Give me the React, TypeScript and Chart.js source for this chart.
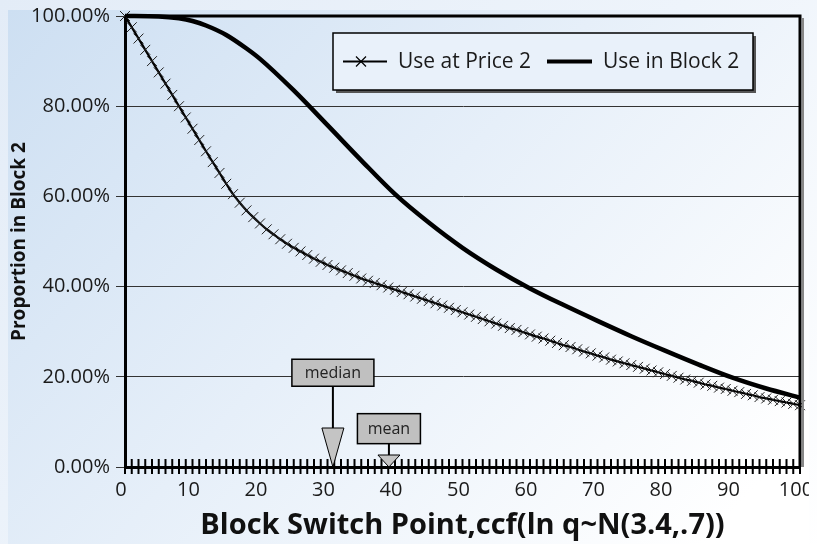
import React, { useEffect, useRef } from 'react';
import { Chart, registerables } from 'chart.js';

Chart.register(...registerables);

// ---- data ----
const priceX: number[] = Array.from({ length: 101 }, (_, i) => i);
const priceUse: number[] = [
  100, 97.5, 95.0, 92.5, 90.0, 87.5, 85.0, 82.5, 80.0, 77.5,
  75.0, 72.5, 70.0, 67.6, 65.2, 62.8, 60.5, 58.6, 56.9, 55.4,
  54.0, 52.7, 51.6, 50.5, 49.5, 48.6, 47.8, 47.0, 46.2, 45.5,
  44.8, 44.2, 43.6, 43.0, 42.4, 41.8, 41.3, 40.8, 40.3, 39.8,
  39.3, 38.8, 38.3, 37.8, 37.3, 36.8, 36.3, 35.8, 35.3, 34.8,
  34.3, 33.8, 33.3, 32.8, 32.3, 31.8, 31.3, 30.8, 30.4, 29.9,
  29.4, 28.9, 28.5, 28.0, 27.5, 27.0, 26.6, 26.1, 25.6, 25.2,
  24.7, 24.3, 23.8, 23.4, 23.0, 22.6, 22.2, 21.8, 21.4, 21.0,
  20.6, 20.2, 19.8, 19.4, 19.1, 18.7, 18.3, 18.0, 17.6, 17.3,
  16.9, 16.6, 16.2, 15.9, 15.5, 15.2, 14.9, 14.6, 14.3, 14.0,
  13.7,
];
const blockX: number[] = [0, 5, 8, 10, 12, 15, 18, 20, 25, 30, 35, 40, 45, 50, 55, 60, 65, 70, 75, 80, 85, 90, 95, 100];
const blockUse: number[] = [100, 99.9, 99.5, 98.9, 97.9, 95.8, 92.8, 90.5, 83.5, 75.8, 68.0, 60.5, 54.2, 48.6, 43.8, 39.6, 35.9, 32.4, 29.0, 25.8, 22.7, 19.8, 17.4, 15.4];
const xTickValues: number[] = [0, 10, 20, 30, 40, 50, 60, 70, 80, 90, 100];
const yTickValues: number[] = [0, 20, 40, 60, 80, 100];
const minorTickValues: number[] = Array.from({ length: 101 }, (_, i) => i);
const seriesNames: string[] = ['Use at Price 2', 'Use in Block 2'];
const medianX = 30.8;
const meanX = 39.1;
const medianBoxY = 20.9;
const meanBoxY = 8.5;

const FONT = "'Open Sans', 'Noto Sans', sans-serif";

const bgPlugin = {
  id: 'bg',
  beforeDraw(chart: any) {
    const { ctx, width, height } = chart;
    ctx.save();
    const g = ctx.createLinearGradient(0, 2, width * 0.8, height * 1.1);
    g.addColorStop(0, '#cddff2');
    g.addColorStop(0.5, '#e6eff9');
    g.addColorStop(1, '#ffffff');
    ctx.fillStyle = g;
    ctx.fillRect(0, 2, width, height - 2);
    ctx.restore();
  },
};

function drawMarker(ctx: any, cx: number, base: number, boxCy: number, label: string, boxW: number, boxH: number, triH: number, triW: number) {
  const boxTop = boxCy - boxH / 2;
  const boxBottom = boxCy + boxH / 2;
  ctx.save();
  ctx.strokeStyle = '#000';
  ctx.lineWidth = 2;
  ctx.beginPath();
  ctx.moveTo(cx, boxBottom);
  ctx.lineTo(cx, base - triH);
  ctx.stroke();
  ctx.fillStyle = '#c4c4c4';
  ctx.lineWidth = 1;
  ctx.beginPath();
  ctx.moveTo(cx - triW / 2, base - triH);
  ctx.lineTo(cx + triW / 2, base - triH);
  ctx.lineTo(cx, base);
  ctx.closePath();
  ctx.fill();
  ctx.stroke();
  ctx.fillStyle = '#c0c0c0';
  ctx.lineWidth = 1.5;
  ctx.fillRect(cx - boxW / 2, boxTop, boxW, boxH);
  ctx.strokeRect(cx - boxW / 2, boxTop, boxW, boxH);
  ctx.fillStyle = '#222';
  ctx.font = `16px ${FONT}`;
  ctx.textAlign = 'center';
  ctx.textBaseline = 'middle';
  ctx.fillText(label, cx, boxCy + 1);
  ctx.restore();
}

const overlayPlugin = {
  id: 'overlay',
  afterDraw(chart: any) {
    const { ctx, chartArea, scales } = chart;
    const xs = scales.x;
    const ys = scales.y;
    const base = ys.getPixelForValue(0);
    ctx.save();
    ctx.strokeStyle = '#888';
    ctx.lineWidth = 2;
    ctx.beginPath();
    ctx.moveTo(chartArea.right + 3, chartArea.top + 2);
    ctx.lineTo(chartArea.right + 3, chartArea.bottom);
    ctx.stroke();
    ctx.strokeStyle = '#000';
    ctx.lineWidth = 3;
    ctx.beginPath();
    ctx.moveTo(chartArea.left, chartArea.top);
    ctx.lineTo(chartArea.right, chartArea.top);
    ctx.lineTo(chartArea.right, chartArea.bottom);
    ctx.stroke();
    ctx.lineWidth = 2;
    ctx.beginPath();
    for (const v of minorTickValues) {
      const px = xs.getPixelForValue(v);
      ctx.moveTo(px, base - 8);
      ctx.lineTo(px, base + 7);
    }
    ctx.stroke();
    ctx.restore();

    drawMarker(ctx, xs.getPixelForValue(medianX), base, ys.getPixelForValue(medianBoxY), 'median', 82, 27, 39, 22);
    drawMarker(ctx, xs.getPixelForValue(meanX), base, ys.getPixelForValue(meanBoxY), 'mean', 63, 30, 12, 22);

    const lx = chartArea.left + 208;
    const ly = chartArea.top + 17;
    const lw = 420;
    const lh = 57;
    ctx.save();
    ctx.fillStyle = '#555';
    ctx.fillRect(lx + 3, ly + 3, lw, lh);
    ctx.fillStyle = '#e9f1fa';
    ctx.fillRect(lx, ly, lw, lh);
    ctx.strokeStyle = '#000';
    ctx.lineWidth = 1.5;
    ctx.strokeRect(lx, ly, lw, lh);
    const cy = ly + lh / 2;
    ctx.lineWidth = 2;
    ctx.beginPath();
    ctx.moveTo(lx + 10, cy);
    ctx.lineTo(lx + 54, cy);
    ctx.stroke();
    ctx.lineWidth = 1.2;
    ctx.beginPath();
    const mx = lx + 28;
    ctx.moveTo(mx - 5, cy - 5);
    ctx.lineTo(mx + 5, cy + 5);
    ctx.moveTo(mx + 5, cy - 5);
    ctx.lineTo(mx - 5, cy + 5);
    ctx.stroke();
    ctx.fillStyle = '#1a1a1a';
    ctx.font = `21px ${FONT}`;
    ctx.textAlign = 'left';
    ctx.textBaseline = 'middle';
    ctx.fillText(seriesNames[0], lx + 65, cy + 1);
    ctx.lineWidth = 4;
    ctx.beginPath();
    ctx.moveTo(lx + 214, cy);
    ctx.lineTo(lx + 259, cy);
    ctx.stroke();
    ctx.fillText(seriesNames[1], lx + 270, cy + 1);
    ctx.restore();
  },
};

export default function App() {
  const ref = useRef<HTMLCanvasElement | null>(null);
  useEffect(() => {
    document.documentElement.style.overflow = 'hidden';
    document.body.style.background = 'linear-gradient(135deg, #e3ecf7 0%, #eef4fb 50%, #ffffff 100%)';
    document.body.style.minHeight = '544px';
    const canvas = ref.current!;
    const chart = new Chart(canvas, {
      type: 'line',
      data: {
        datasets: [
          {
            label: seriesNames[0],
            data: priceX.map((x, i) => ({ x, y: priceUse[i] })),
            borderColor: '#000',
            borderWidth: 2.2,
            pointStyle: 'crossRot',
            pointRadius: 7,
            pointBorderWidth: 1,
            pointBorderColor: '#222',
            pointBackgroundColor: 'transparent',
            tension: 0.3,
            clip: false as any,
          },
          {
            label: seriesNames[1],
            data: blockX.map((x, i) => ({ x, y: blockUse[i] })),
            borderColor: '#000',
            borderWidth: 4.5,
            pointRadius: 0,
            cubicInterpolationMode: 'monotone',
            clip: false as any,
          },
        ],
      },
      options: {
        animation: false,
        responsive: false,
        layout: { padding: { top: 3, right: 17, left: 0, bottom: 0 } },
        plugins: { legend: { display: false }, tooltip: { enabled: false } },
        scales: {
          x: {
            type: 'linear',
            min: 0,
            max: 100,
            afterFit(s: any) { s.height = 77; s.paddingLeft = 0; s.paddingRight = 0; },
            afterBuildTicks(s: any) { s.ticks = xTickValues.map((v) => ({ value: v })); },
            ticks: { color: '#1a1a1a', font: { family: FONT, size: 20 }, padding: 3, labelOffset: -4, maxRotation: 0, autoSkip: false },
            grid: { display: true, drawOnChartArea: false, color: 'transparent', tickLength: 8 },
            border: { display: true, color: '#000', width: 3 },
            title: { display: true, text: 'Block Switch Point,ccf(ln q~N(3.4,.7))', color: '#111', font: { family: FONT, size: 29, weight: 'bold' }, padding: { top: 0, bottom: 1 } },
          },
          y: {
            min: 0,
            max: 100,
            afterFit(s: any) { s.width = 117; s.paddingTop = 0; s.paddingBottom = 0; },
            afterBuildTicks(s: any) { s.ticks = yTickValues.map((v) => ({ value: v })); },
            ticks: { color: '#1a1a1a', font: { family: FONT, size: 20 }, padding: 6, callback: (v: any) => Number(v).toFixed(2) + '%' },
            grid: { color: '#333', lineWidth: 1, tickLength: 9 },
            border: { display: true, color: '#000', width: 3 },
            title: { display: true, text: 'Proportion in Block 2', color: '#111', font: { family: FONT, size: 19, weight: 'bold' }, padding: { top: 0, bottom: 0 } },
          },
        },
      },
      plugins: [bgPlugin, overlayPlugin],
    });
    return () => chart.destroy();
  }, []);
  return (
    <div>
      <canvas ref={ref} width={809} height={536} style={{ display: 'block', width: 809, height: 536 }} />
    </div>
  );
}
